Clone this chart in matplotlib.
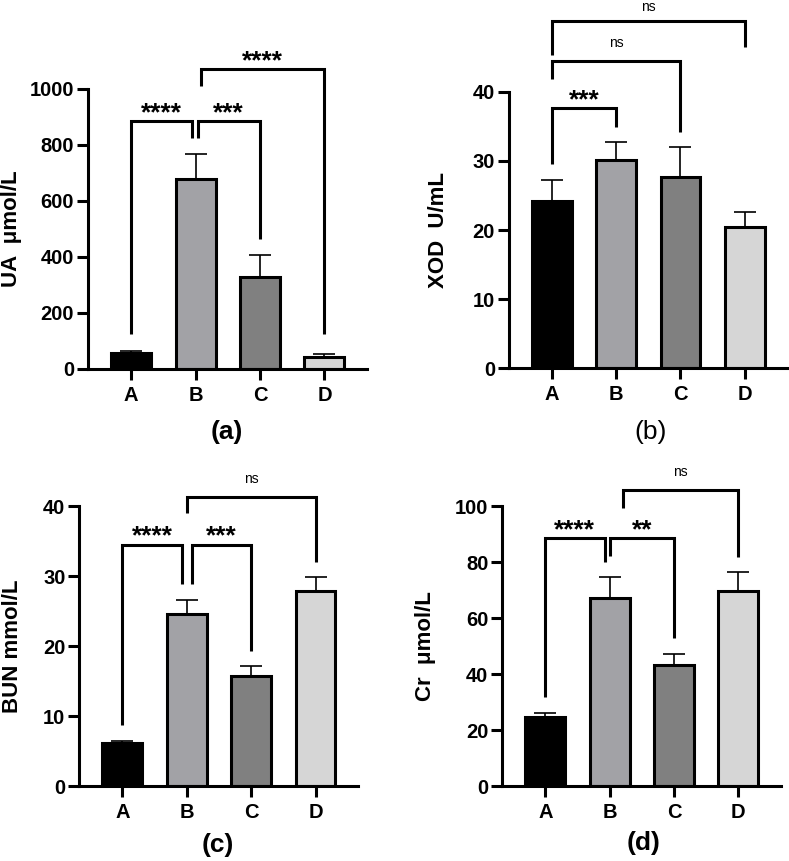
import matplotlib
matplotlib.use("Agg")
import matplotlib.pyplot as plt
import numpy as np

plt.rcParams['font.family'] = ['Liberation Sans', 'DejaVu Sans']
plt.rcParams['font.weight'] = 'bold'

categories = ['A', 'B', 'C', 'D']
bar_colors = ['#000000', '#a2a2a6', '#808080', '#d6d6d6']

ua_mean = [58, 680, 330, 42]
ua_err = [7, 88, 78, 10]
xod_mean = [24.2, 30.1, 27.6, 20.4]
xod_err = [3.0, 2.6, 4.4, 2.2]
bun_mean = [6.2, 24.6, 15.7, 27.9]
bun_err = [0.2, 2.0, 1.4, 1.9]
cr_mean = [24.5, 67.0, 43.2, 69.6]
cr_err = [1.7, 7.5, 3.9, 6.7]

# brackets: (x_left, x_right, y_top, y_left_end, y_right_end, label)
ua_brackets = [(0, 0.95, 887, 125, 825, '****'),
               (1.03, 2, 887, 825, 464, '***'),
               (1.08, 3, 1071, 1010, 125, '****')]
xod_brackets = [(0, 1, 37.6, 29.5, 34.9, '***'),
                (0, 2, 44.5, 41.9, 34.2, 'ns'),
                (0, 3, 50.2, 45.3, 46.4, 'ns')]
bun_brackets = [(0, 0.92, 34.5, 8.7, 28.9, '****'),
                (1.08, 2, 34.5, 28.9, 19.3, '***'),
                (1.0, 3, 41.3, 39.0, 32.0, 'ns')]
cr_brackets = [(0, 0.92, 88.5, 31.9, 80.1, '****'),
               (1.0, 2, 88.5, 82.1, 52.7, '**'),
               (1.2, 3, 105.7, 99.4, 81.9, 'ns')]

W, H = 789, 861
fig = plt.figure(figsize=(W / 100, H / 100), dpi=100)


def make_panel(rect_px, means, errs, ymax, yticks, brackets, ylabel, ylabel_x, tag, tag_xy, tag_bold):
    left, bottom, right, top = rect_px
    ax = fig.add_axes([left / W, (H - bottom) / H, (right - left) / W, (bottom - top) / H])
    x = np.arange(len(categories))
    ax.errorbar(x, means, yerr=[np.zeros(len(errs)), errs], fmt='none', ecolor='k',
                elinewidth=1.2, capsize=8, capthick=1.2, zorder=1)
    ax.bar(x, means, width=0.62, color=bar_colors, edgecolor='k', linewidth=2.2, zorder=2)
    ax.set_xlim(-0.67, 3.66)
    ax.set_ylim(0, ymax)
    ax.set_yticks(yticks)
    ax.set_xticks(x)
    ax.set_xticklabels(categories)
    for s in ['top', 'right']:
        ax.spines[s].set_visible(False)
    for s in ['left', 'bottom']:
        ax.spines[s].set_linewidth(2.2)
        ax.spines[s].set_zorder(3)
    ax.tick_params(axis='both', width=2.2, length=8, labelsize=14.5)
    ax.tick_params(axis='y', pad=2)
    ax.tick_params(axis='x', pad=4)
    for (x1, x2, yt, yl, yr, lab) in brackets:
        ax.plot([x1, x1, x2, x2], [yl, yt, yt, yr], color='k', lw=2.2,
                clip_on=False, solid_joinstyle='miter', solid_capstyle='butt', zorder=4)
        if lab == 'ns':
            # keep text inside the figure when the bracket is near the top edge
            top_px = ax.transData.transform(((x1 + x2) / 2, yt))[1]
            room_pt = (H - top_px) * 0.72 - 8
            off = min(10, room_pt)
            ax.annotate(lab, xy=((x1 + x2) / 2, yt), xytext=(0, off), textcoords='offset points',
                        ha='center', va='baseline', fontsize=10, fontweight='normal',
                        annotation_clip=False)
        else:
            ax.annotate(lab, xy=((x1 + x2) / 2, yt), xytext=(0, 0.5), textcoords='offset points',
                        ha='center', va='baseline', fontsize=19, fontweight='bold',
                        annotation_clip=False)
    cy = (top + bottom) / 2
    fig.text(ylabel_x / W, (H - cy) / H, ylabel, rotation=90, ha='center', va='center',
             fontsize=16, fontweight='bold')
    fig.text(tag_xy[0] / W, (H - tag_xy[1]) / H, tag, ha='center', va='center',
             fontsize=19, fontweight='bold' if tag_bold else 'normal')
    return ax


make_panel((88, 369, 367, 89), ua_mean, ua_err, 1000, [0, 200, 400, 600, 800, 1000],
           ua_brackets, 'UA  μmol/L', 12, '(a)', (227, 432), True)
make_panel((509, 368.3, 787, 91.7), xod_mean, xod_err, 40, [0, 10, 20, 30, 40],
           xod_brackets, 'XOD  U/mL', 439, '(b)', (651, 432), False)
make_panel((79.3, 786, 358, 506), bun_mean, bun_err, 40, [0, 10, 20, 30, 40],
           bun_brackets, 'BUN mmol/L', 13, '(c)', (218, 845), True)
make_panel((502.3, 786, 780.7, 506), cr_mean, cr_err, 100, [0, 20, 40, 60, 80, 100],
           cr_brackets, 'Cr  μmol/L', 426, '(d)', (644, 843), True)

fig.savefig('out.png', dpi=100)
